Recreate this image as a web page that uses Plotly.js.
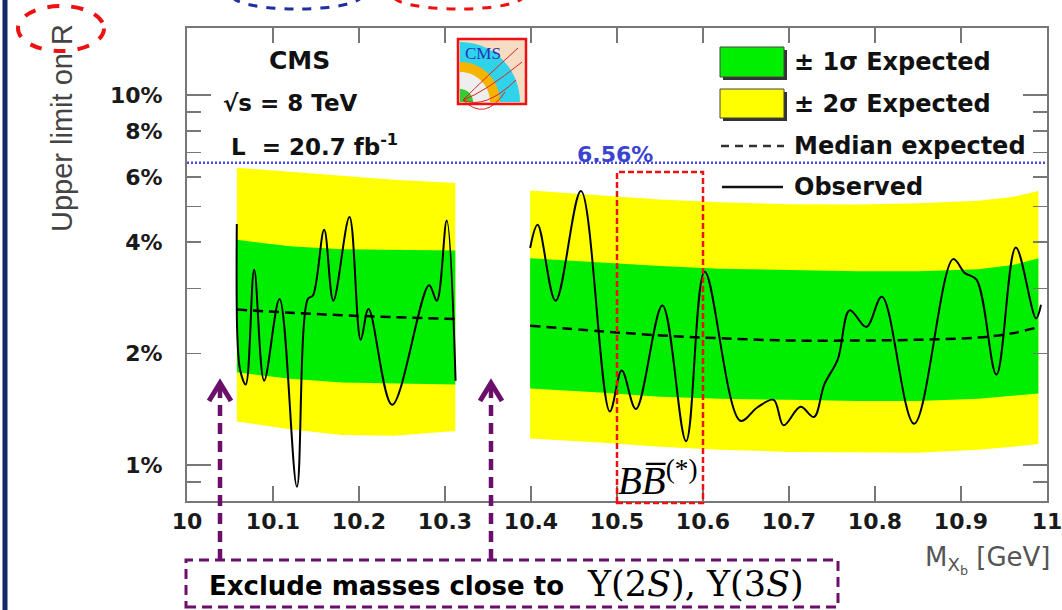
<!DOCTYPE html>
<html><head><meta charset="utf-8">
<script src="https://cdn.plot.ly/plotly-3.0.1.min.js"></script>
<style>html,body{margin:0;padding:0;background:#fff}#chart{width:1062px;height:610px}</style>
</head><body><div id="chart"></div>
<script>
// ---- Expected bands (upper limit on R, in %) ----
const massLeft   = [10.058, 10.12, 10.18, 10.24, 10.312];
const exp2UpLeft = [6.36, 6.20, 6.03, 5.90, 5.78];
const exp1UpLeft = [4.06, 3.90, 3.83, 3.81, 3.80];
const medianLeft = [2.63, 2.58, 2.54, 2.51, 2.48];
const exp1DnLeft = [1.78, 1.71, 1.67, 1.66, 1.65];
const exp2DnLeft = [1.31, 1.25, 1.205, 1.20, 1.235];

const massRight   = [10.399, 10.48, 10.55, 10.62, 10.70, 10.78, 10.85, 10.92, 10.96, 10.99];
const exp2UpRight = [5.52, 5.35, 5.22, 5.13, 5.07, 5.06, 5.10, 5.18, 5.30, 5.50];
const exp1UpRight = [3.62, 3.52, 3.45, 3.39, 3.36, 3.34, 3.34, 3.38, 3.47, 3.62];
const medianRight = [2.38, 2.30, 2.24, 2.20, 2.17, 2.17, 2.18, 2.21, 2.27, 2.36];
const exp1DnRight = [1.61, 1.57, 1.53, 1.51, 1.50, 1.49, 1.49, 1.51, 1.54, 1.56];
const exp2DnRight = [1.18, 1.15, 1.12, 1.10, 1.085, 1.08, 1.08, 1.10, 1.12, 1.14];

// ---- Observed limit ----
const obsMassLeft  = [10.0579, 10.0586, 10.0619, 10.0683, 10.0781, 10.0897, 10.1076, 10.1278, 10.1405, 10.1464,
                      10.1595, 10.1702, 10.1889, 10.2020, 10.2111, 10.2385, 10.2814, 10.2905, 10.3020, 10.3123];
const obsLimitLeft = [4.48, 2.22, 1.80, 1.65, 3.37, 1.69, 2.81, 0.874, 2.81, 2.87,
                      4.32, 2.78, 4.68, 2.18, 2.64, 1.455, 3.06, 2.78, 4.58, 1.69];
const obsMassRight  = [10.399, 10.4077, 10.4286, 10.4581, 10.4916, 10.5055, 10.522, 10.5528, 10.5803, 10.602,
                       10.6434, 10.6631, 10.6821, 10.6937, 10.7134, 10.729, 10.741, 10.7567, 10.7706, 10.790,
                       10.808, 10.8455, 10.8908, 10.9045, 10.918, 10.9412, 10.9637, 10.9873, 10.993];
const obsLimitRight = [3.86, 4.46, 2.78, 5.50, 1.396, 1.80, 1.417, 2.70, 1.16, 3.33,
                       1.317, 1.43, 1.50, 1.28, 1.437, 1.348, 1.65, 1.93, 2.62, 2.36,
                       2.85, 1.293, 3.60, 3.30, 3.17, 1.755, 3.87, 2.49, 2.71];

const maxObservedLimit = 6.56;
const bbRegion = [10.5, 10.6];

const xTickVals = [10, 10.1, 10.2, 10.3, 10.4, 10.5, 10.6, 10.7, 10.8, 10.9, 11];
const xTickText = ['10', '10.1', '10.2', '10.3', '10.4', '10.5', '10.6', '10.7', '10.8', '10.9', '11'];
const yTickVals = [1, 2, 4, 6, 8, 10];
const yTickText = ['1%', '2%', '4%', '6%', '8%', '10%'];
const yMinorVals = [0.9, 3, 5, 7, 9];
const yLongVals = [1, 10];

// ---- helpers ----
const W = 1062, H = 610, L = 187, R = 15, T = 28, B = 109;
const PW = W - L - R, PH = H - T - B;
const px = x => (x - L) / PW;
const py = y => (H - B - y) / PH;
const band = (xs, up, dn) => ({x: xs.concat(xs.slice().reverse()), y: up.concat(dn.slice().reverse())});

const YELLOW = '#ffff00', GREEN = '#00ee00';
const SANS = 'DejaVu Sans, Verdana, sans-serif';
const traces = [];
function addBand(xs, up, dn, color) {
  const b = band(xs, up, dn);
  traces.push({x: b.x, y: b.y, type: 'scatter', mode: 'lines', fill: 'toself', fillcolor: color,
               line: {width: 0, color: color}, hoverinfo: 'skip', showlegend: false});
}
addBand(massLeft, exp2UpLeft, exp2DnLeft, YELLOW);
addBand(massRight, exp2UpRight, exp2DnRight, YELLOW);
addBand(massLeft, exp1UpLeft, exp1DnLeft, GREEN);
addBand(massRight, exp1UpRight, exp1DnRight, GREEN);
[[massLeft, medianLeft], [massRight, medianRight]].forEach(([x, y]) => traces.push({
  x, y, type: 'scatter', mode: 'lines', line: {color: '#000', width: 2.5, dash: '10px,6px', shape: 'spline'}, showlegend: false}));
[[obsMassLeft, obsLimitLeft], [obsMassRight, obsLimitRight]].forEach(([x, y]) => traces.push({
  x, y, type: 'scatter', mode: 'lines', line: {color: '#000', width: 2, shape: 'spline', smoothing: 1}, showlegend: false}));
traces.push({x: [10, 11], y: [maxObservedLimit, maxObservedLimit], type: 'scatter', mode: 'lines',
  line: {color: '#4a4ae0', width: 2.5, dash: '2px,2px'}, showlegend: false});
traces.push({x: [], y: [], yaxis: 'y2', type: 'scatter', showlegend: false});

const PURPLE = '#6b0f6b', RED = '#ee1111';
const shapes = [];
// left navy bar
shapes.push({type: 'rect', xref: 'paper', yref: 'paper', x0: px(2.5), x1: px(7.5), y0: py(610), y1: py(0), fillcolor: '#10296b', line: {width: 0}});
// partial ellipses at top
shapes.push({type: 'circle', xref: 'paper', yref: 'paper', x0: px(232), x1: px(362), y0: py(9), y1: py(-18), line: {color: '#1f2f9f', width: 3, dash: 'dash'}});
shapes.push({type: 'circle', xref: 'paper', yref: 'paper', x0: px(393), x1: px(524), y0: py(9), y1: py(-18), line: {color: RED, width: 3, dash: 'dash'}});
// ellipse around R
shapes.push({type: 'circle', xref: 'paper', yref: 'paper', x0: px(18), x1: px(104), y0: py(51), y1: py(6), line: {color: RED, width: 4, dash: 'dash'}});
// B Bbar box
shapes.push({type: 'rect', xref: 'x', yref: 'paper', x0: bbRegion[0], x1: bbRegion[1], y0: py(503), y1: py(172), line: {color: RED, width: 2.5, dash: '6px,3px'}});
// Exclude box
shapes.push({type: 'rect', xref: 'paper', yref: 'paper', x0: px(186), x1: px(838), y0: py(607), y1: py(560), line: {color: PURPLE, width: 3, dash: '10px,6px'}});
// arrows
[220, 491].forEach(ax => {
  shapes.push({type: 'line', xref: 'paper', yref: 'paper', x0: px(ax), x1: px(ax), y0: py(560), y1: py(386), line: {color: PURPLE, width: 4.5, dash: '11px,7px'}});
  shapes.push({type: 'path', xref: 'paper', yref: 'paper',
    path: `M ${px(ax - 11)} ${py(401)} L ${px(ax)} ${py(383)} L ${px(ax + 11)} ${py(401)}`, line: {color: PURPLE, width: 5}});
});
// legend boxes
function legBox(y0, y1, color) {
  shapes.push({type: 'rect', xref: 'paper', yref: 'paper', x0: px(723), x1: px(787), y0: py(y1 + 3), y1: py(y0 + 3), fillcolor: '#333', line: {width: 0}});
  shapes.push({type: 'rect', xref: 'paper', yref: 'paper', x0: px(720), x1: px(784), y0: py(y1), y1: py(y0), fillcolor: color, line: {color: '#444', width: 1}});
}
legBox(47, 77, GREEN);
legBox(89, 118, YELLOW);
shapes.push({type: 'line', xref: 'paper', yref: 'paper', x0: px(721), x1: px(784), y0: py(146), y1: py(146), line: {color: '#333', width: 2.5, dash: '8px,6px'}});
shapes.push({type: 'line', xref: 'paper', yref: 'paper', x0: px(722), x1: px(783), y0: py(187), y1: py(187), line: {color: '#111', width: 2.5}});
// CMS logo
function quarter(cx, cy, r, color) {
  let p = `M ${px(cx)} ${py(cy)}`;
  for (let i = 0; i <= 18; i++) { const a = Math.PI / 2 * i / 18; p += ` L ${px(cx + r * Math.cos(a))} ${py(cy - r * Math.sin(a))}`; }
  shapes.push({type: 'path', xref: 'paper', yref: 'paper', path: p + ' Z', fillcolor: color, line: {width: 0}});
}
shapes.push({type: 'rect', xref: 'paper', yref: 'paper', x0: px(458), x1: px(526), y0: py(104), y1: py(39), fillcolor: '#f7dcc4', line: {width: 0}});
quarter(460, 102, 60, '#2fd3ea');
quarter(460, 102, 40, '#f4b400');
quarter(460, 102, 30, '#eeeeee');
quarter(460, 102, 13, '#33cc33');
[[518, 48], [522, 62], [516, 80], [505, 92]].forEach(([ex, ey]) => shapes.push({type: 'path', xref: 'paper', yref: 'paper',
  path: `M ${px(463)} ${py(100)} Q ${px(485)} ${py(ey + 30)} ${px(ex)} ${py(ey)}`, line: {color: '#e02020', width: 1}}));
shapes.push({type: 'rect', xref: 'paper', yref: 'paper', x0: px(458), x1: px(526), y0: py(104), y1: py(39), line: {color: RED, width: 2.5}});

const ann = [];
function txt(text, x, y, o = {}) {
  ann.push(Object.assign({text, xref: 'paper', yref: 'paper', x: px(x), y: py(y), showarrow: false,
    xanchor: o.xa || 'left', yanchor: 'middle',
    font: {family: o.family || SANS, size: o.size || 24, color: o.color || '#111', weight: o.weight || 'bold'}}, o.extra || {}));
}
txt('CMS', 299, 60, {xa: 'center', size: 25});
txt('√s = 8 TeV', 221, 103, {size: 23});
txt('L  = 20.7 fb<sup>-1</sup>', 229, 145, {size: 23});
txt('6.56%', 615, 154, {xa: 'center', size: 22, color: '#3a44d0'});
txt('± 1σ Expected', 792, 62);
txt('± 2σ Expected', 792, 104);
txt('Median expected', 792, 146);
txt('Observed', 792, 187);
txt('Upper limit on R', 62, 128, {xa: 'center', size: 29, color: '#444', weight: 'normal', family: 'Liberation Sans, Arial, sans-serif', extra: {textangle: -90}});
txt('M<sub>X<sub>b</sub></sub> [GeV]', 1052, 560, {xa: 'right', size: 26, color: '#555', weight: 'normal'});
txt('<i>BB\u0305</i><sup>(*)</sup>', 658, 478, {xa: 'center', size: 39, family: 'Liberation Serif, Times New Roman, serif', color: '#000', weight: 'normal'});
txt('Exclude masses close to', 207, 586, {size: 26, color: '#000'});
txt('\u03A5(2<i>S</i>), \u03A5(3<i>S</i>)', 585, 584, {size: 35, family: 'DejaVu Serif, serif', color: '#000', weight: 'normal'});
txt('CMS', 483, 53, {xa: 'center', size: 17, family: 'Liberation Serif, serif', color: '#2233bb', weight: 'normal'});

const axisFont = {family: SANS, size: 22, color: '#1a1a1a', weight: 'bold'};
const layout = {
  width: W, height: H, margin: {l: L, r: R, t: T, b: B, pad: 0},
  paper_bgcolor: '#fff', plot_bgcolor: '#fff', showlegend: false,
  xaxis: {range: [10, 11], tickmode: 'array', tickvals: xTickVals, ticktext: xTickText, ticks: 'inside', ticklen: 15,
    tickwidth: 1.5, tickcolor: '#777', showline: true, linecolor: '#777', linewidth: 2, mirror: 'ticks', showgrid: false,
    zeroline: false, tickfont: axisFont, ticklabelstandoff: 0, ticklabeloverflow: 'allow'},
  yaxis: {type: 'log', range: [-0.0973, 1.181], tickmode: 'array', tickvals: yTickVals, ticktext: yTickText, ticks: 'inside',
    ticklen: 14, tickwidth: 1.5, tickcolor: '#777', showline: true, linecolor: '#777', linewidth: 2, mirror: 'ticks',
    showgrid: false, zeroline: false, tickfont: axisFont, ticklabelstandoff: 18,
    minor: {tickmode: 'array', tickvals: yMinorVals, ticks: 'inside', ticklen: 14, tickwidth: 1.5, tickcolor: '#777', showgrid: false}},
  yaxis2: {type: 'log', range: [-0.0973, 1.181], overlaying: 'y', tickmode: 'array', tickvals: yLongVals, ticks: 'inside',
    ticklen: 24, tickwidth: 1.5, tickcolor: '#777', showticklabels: false, showgrid: false, zeroline: false,
    showline: false, mirror: 'ticks', anchor: 'x', side: 'left'},
  shapes, annotations: ann
};
Plotly.newPlot('chart', traces, layout, {displayModeBar: false, staticPlot: true});
</script></body></html>
